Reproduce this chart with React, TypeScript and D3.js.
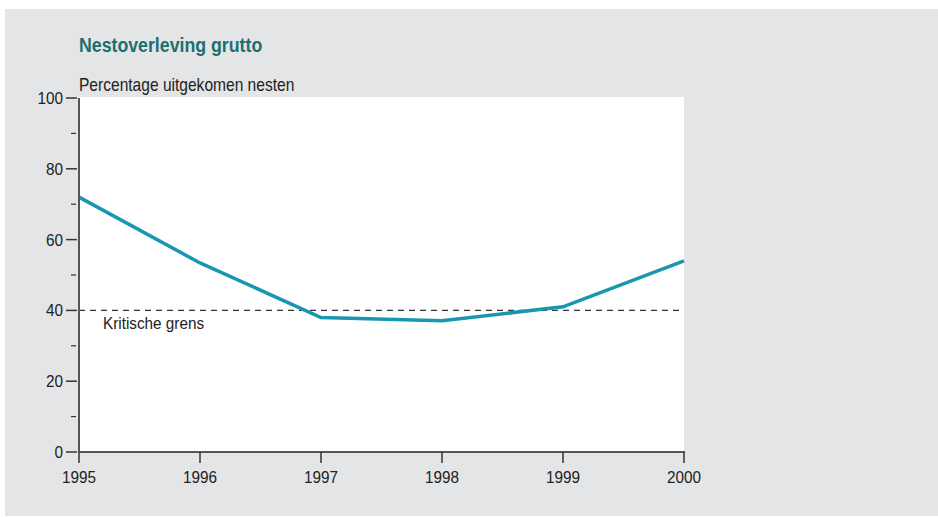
import React from 'react';
import * as d3 from 'd3';

const WIDTH = 938;
const HEIGHT = 517;
const MARGIN = { top: 98, right: 254, bottom: 65, left: 79 };

const years = [1995, 1996, 1997, 1998, 1999, 2000];
const hatched = [72, 53.4, 38, 37.1, 41, 54];
const yTicks = [0, 20, 40, 60, 80, 100];
const yMinorTicks = [10, 30, 50, 70, 90];
const threshold = 40;

const FONT = '"Liberation Sans", Arial, sans-serif';
// the original uses a condensed face; squeeze the regular one a bit
const SQUEEZE = 0.9;

const Label = ({ x, y, size, anchor = 'start', sx = SQUEEZE, weight = 'normal', fill = '#222', children }: any) => (
  <text
    transform={`translate(${x},${y}) scale(${sx},1)`}
    fontSize={size}
    fontWeight={weight}
    textAnchor={anchor}
    fill={fill}
  >
    {children}
  </text>
);

const App = () => {
  const innerW = WIDTH - MARGIN.left - MARGIN.right;
  const innerH = HEIGHT - MARGIN.top - MARGIN.bottom;

  const x = d3.scaleLinear().domain([1995, 2000]).range([MARGIN.left, MARGIN.left + innerW]);
  const y = d3.scaleLinear().domain([0, 100]).range([MARGIN.top + innerH, MARGIN.top]);

  const line = d3
    .line<number>()
    .x((d, i) => x(years[i]))
    .y((d) => y(d));

  const x0 = x(1995);
  const y0 = y(0);

  return (
    <svg
      width={WIDTH}
      height={HEIGHT}
      style={{ position: 'absolute', left: 0, top: 0 }}
      fontFamily={FONT}
    >
      <rect x={0} y={0} width={WIDTH} height={HEIGHT} fill="#fff" />
      <rect x={5} y={9} width={WIDTH - 5} height={507} fill="#e4e5e7" />
      <rect x={x0} y={y(100) - 1} width={x(2000) - x0} height={y0 - y(100) + 1} fill="#fff" />

      <Label x={79} y={52} size={19.5} sx={0.91} weight="bold" fill="#1c7070">
        Nestoverleving grutto
      </Label>
      <Label x={79} y={91} size={18} sx={0.865}>
        Percentage uitgekomen nesten
      </Label>

      {/* threshold */}
      <line
        x1={x0}
        x2={x(2000) - 4}
        y1={y(threshold)}
        y2={y(threshold)}
        stroke="#333"
        strokeWidth={1.3}
        strokeDasharray="6,5"
      />
      <Label x={103} y={329} size={17}>
        Kritische grens
      </Label>

      {/* series */}
      <path d={line(hatched) || ''} fill="none" stroke="#1a97b0" strokeWidth={3.5} />

      {/* y axis */}
      <line x1={x0} x2={x0} y1={y(100)} y2={y0 + 1} stroke="#555" strokeWidth={2} />
      {yTicks.map((t) => (
        <g key={t}>
          <line x1={66} x2={77} y1={y(t)} y2={y(t)} stroke="#333" strokeWidth={1.5} />
          <Label x={63} y={y(t) + 6} size={17} anchor="end">
            {t}
          </Label>
        </g>
      ))}
      {yMinorTicks.map((t) => (
        <line key={t} x1={71} x2={76} y1={y(t)} y2={y(t)} stroke="#333" strokeWidth={1.2} />
      ))}

      {/* x axis */}
      <line x1={x0 - 1} x2={x(2000) + 1} y1={y0} y2={y0} stroke="#555" strokeWidth={2} />
      {years.map((yr) => (
        <g key={yr}>
          <line x1={x(yr)} x2={x(yr)} y1={y0} y2={y0 + 11} stroke="#333" strokeWidth={1.5} />
          <Label x={x(yr)} y={y0 + 31} size={17} anchor="middle">
            {yr}
          </Label>
        </g>
      ))}
    </svg>
  );
};

export default App;
